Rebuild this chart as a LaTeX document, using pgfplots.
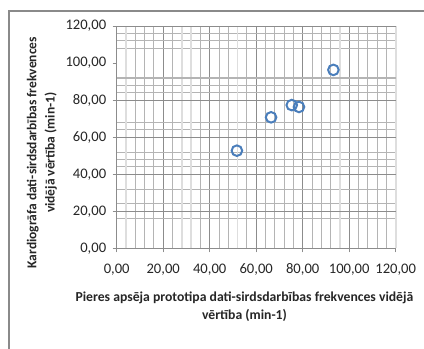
\documentclass[border=0pt]{standalone}
\usepackage{pgfplots}
\pgfplotsset{compat=1.18}
\usepackage{fontspec}
\setmainfont{Carlito}
\definecolor{majg}{HTML}{8C8C8C}
\definecolor{medg}{HTML}{B4B4B4}
\definecolor{ligg}{HTML}{DEDEDE}
\definecolor{ptblue}{HTML}{4A7EBB}
\definecolor{frameg}{HTML}{8A8A8A}
\begin{document}
\begin{tikzpicture}[x=1bp,y=1bp]
\useasboundingbox (0,0) rectangle (424,349);
\draw[frameg, line width=1.3bp] (9,-5) -- (9,338) -- (430,338);
\begin{axis}[
  at={(116.7bp,100.7bp)}, anchor=south west,
  scale only axis, width=279bp, height=222.3bp,
  xmin=0, xmax=120, ymin=0, ymax=120,
  axis x line=bottom, axis y line=left,
  axis line style={-, draw=majg, line width=0.9bp},
  xtick={0,20,40,60,80,100,120},
  ytick={0,20,40,60,80,100,120},
  tick align=outside, major tick length=4bp, minor tick length=0pt,
  tick style={draw=majg, line width=0.9bp},
  xmajorgrids, major grid style={draw=majg, line width=0.9bp},
  minor xtick={8,12,16,24,36,44,48,56,64,68,72,76,84,88,92,104,108,112,116},
  minor ytick={116,112,108,92,88,84,68,64,52,48,44,32,24,16},
  xminorgrids, yminorgrids,
  minor grid style={draw=medg, line width=0.9bp},
  extra x ticks={4,28,32,52,96,120},
  extra x tick labels={},
  extra x tick style={major tick length=0pt, grid=major, major grid style={draw=ligg, line width=1.6bp}},
  extra y ticks={20,40,60,80,120},
  extra y tick labels={},
  extra y tick style={major tick length=0pt, grid=major, major grid style={draw=majg, line width=0.9bp}},
  /pgf/number format/.cd, fixed, fixed zerofill, precision=2, use comma, 1000 sep={}, assume math mode=true,
  /pgfplots/.cd,
  tick label style={font=\fontsize{14.6bp}{17bp}\selectfont, text=black!85},
  xticklabel style={yshift=-8bp},
  yticklabel style={xshift=-3bp},
  xlabel={Pieres apsēja prototipa dati-sirdsdarbības frekvences vidējā\\vērtība (min-1)},
  xlabel style={at={(axis description cs:0.458,-0.263)}, anchor=center, align=center, font=\bfseries\fontsize{13.7bp}{18.3bp}\selectfont, text=black!85},
  ylabel={Kardiogrāfa dati-sirdsdarbības frekvences\\vidējā vērtība (min-1)},
  ylabel style={at={(axis description cs:-0.268,0.43)}, anchor=center, rotate=0, align=center, font=\bfseries\fontsize{13.5bp}{18.3bp}\selectfont, text=black!85},
  clip=false,
]
\draw[draw=medg, line width=2bp] (axis cs:0,92) -- (axis cs:120,92);
\addplot[only marks, mark=o, mark size=5.3bp, mark options={draw=ptblue, line width=2bp}] coordinates {
  (51.7,52.7) (66.4,70.7) (75.3,77.3) (78.4,76.3) (93.2,96.3)
};
\end{axis}
\end{tikzpicture}
\end{document}
